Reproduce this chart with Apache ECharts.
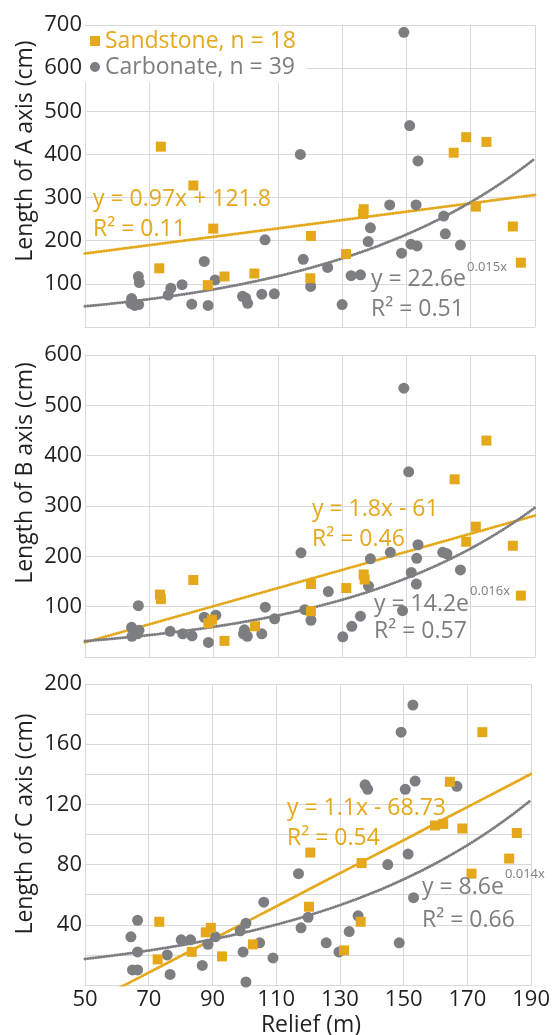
<!DOCTYPE html>
<html><head><meta charset="utf-8">
<script src="https://cdn.jsdelivr.net/npm/echarts@6/dist/echarts.min.js"></script>
<style>html,body{margin:0;padding:0;background:#fff}#c{width:553px;height:1035px}</style>
</head><body><div id="c"></div>
<script>
// ---------- data ----------
const xTicks = [50, 70, 90, 110, 130, 150, 170, 190];
const yTicksA = [100, 200, 300, 400, 500, 600, 700];
const yTicksB = [100, 200, 300, 400, 500, 600];
const yTicksC = [40, 80, 120, 160, 200];

const seriesNames = ['Sandstone, n = 18', 'Carbonate, n = 39'];

const sandstoneA = [[73.1,136],[73.6,418],[83.7,328],[88.2,97],[89.9,228],[93.4,117],[102.7,124],[120.1,113],[120.3,211],[131.2,169],[136.5,262],[136.7,273],[164.7,404],[168.6,440],[171.6,279],[174.9,429],[183.1,233],[185.6,149]];
const carbonateA = [[64.3,55],[64.5,66],[65.5,50],[66.6,117],[66.7,52],[66.9,103],[75.9,74],[76.7,90],[80.2,98],[83.2,53],[87.1,152],[88.3,50],[90.5,109],[99,71],[100,67],[100.6,55],[105,76],[106,202],[108.9,77],[117,400],[117.9,157],[120.2,94],[125.5,138],[130,52],[132.8,119],[135.7,121],[138.1,198],[138.8,230],[144.8,283],[148.5,171],[149.2,683],[151,467],[151.4,192],[153,283],[153.3,188],[153.6,385],[161.6,257],[162.1,216],[166.8,190]];

const sandstoneB = [[73.3,124],[73.6,115],[83.7,153],[88.4,67],[89.5,74],[93.4,32],[102.9,61],[120.3,145],[120.3,91],[131.3,137],[136.7,164],[137,154],[165,353],[168.6,229],[171.6,259],[174.9,430],[183.1,221],[185.6,122]];
const carbonateB = [[64.5,59],[64.6,41],[65.5,50],[66.6,102],[66.8,53],[66.3,46],[76.5,51],[80.4,46],[83.3,42],[87.1,79],[88.4,29],[90.7,83],[99.3,46],[99.6,54],[100.1,44],[100.5,41],[105,46],[106.1,99],[109,76],[117.2,207],[118.4,94],[120.3,73],[125.7,130],[130.2,40],[133,61],[135.7,81],[138.2,141],[138.8,195],[145,208],[148.8,92],[149.2,534],[150.7,368],[151.5,168],[153.1,145],[153.2,196],[153.6,223],[161.3,208],[162.6,205],[166.8,173]];

const sandstoneC = [[72.8,17],[73.3,42],[83.5,22],[87.9,35],[89.5,38],[93,19],[102.7,27],[120.3,52],[120.7,88],[131.3,23],[136.5,42],[136.8,81],[159.8,106],[162.4,107],[164.5,135],[168.4,104],[171.3,74],[174.7,168],[183.1,84],[185.5,101]];
const carbonateC = [[64.4,32],[64.9,10],[66.5,10],[66.5,22],[66.5,43],[75.8,20],[76.7,7],[80.2,30],[83.1,30],[86.8,13],[88.6,27],[90.9,32],[98.7,36],[99.6,22],[100.5,41],[100.5,2],[104.8,28],[106.1,55],[109,18],[117,74],[117.8,38],[120,45],[125.7,28],[129.7,22],[132.9,35.5],[135.7,46],[137.9,133],[138.7,130],[145,80],[148.6,28],[149.2,168],[150.5,130],[151.4,87],[152.9,186],[153.1,58],[153.6,135.5],[166.7,132]];

// trend-line coefficients as printed on the chart
const sandTrendA = [0.97, 121.8];   // y = a x + b
const carbTrendA = [22.6, 0.015];   // y = a e^(b x)
const sandTrendB = [1.8, -61];
const carbTrendB = [14.2, 0.016];
const sandTrendC = [1.1, -68.73];
const carbTrendC = [8.6, 0.014];

const eqSandA = ['y = 0.97x + 121.8', 'R\u00B2 = 0.11'];
const eqCarbA = ['y = 22.6e', '0.015x', 'R\u00B2 = 0.51'];
const eqSandB = ['y = 1.8x - 61', 'R\u00B2 = 0.46'];
const eqCarbB = ['y = 14.2e', '0.016x', 'R\u00B2 = 0.57'];
const eqSandC = ['y = 1.1x - 68.73', 'R\u00B2 = 0.54'];
const eqCarbC = ['y = 8.6e', '0.014x', 'R\u00B2 = 0.66'];

const axisTitles = ['Length of A axis (cm)', 'Length of B axis (cm)', 'Length of C axis (cm)'];
const xTitle = 'Relief (m)';

// ---------- styling ----------
const GOLD = '#E5A81A', GREY = '#7D7E82', TEXT = '#231F20', GRID = '#D9D9D9';
const FONT = '"Open Sans", "Noto Sans", sans-serif';
const GL = 85, GW = 450;

const panels = [
  {sand: sandstoneA, carb: carbonateA, st: sandTrendA, ct: carbTrendA, max: 700, interval: 100, ticks: yTicksA, top: 25, height: 302},
  {sand: sandstoneB, carb: carbonateB, st: sandTrendB, ct: carbTrendB, max: 600, interval: 100, ticks: yTicksB, top: 355, height: 302},
  {sand: sandstoneC, carb: carbonateC, st: sandTrendC, ct: carbTrendC, max: 200, interval: 20, ticks: yTicksC, top: 684, height: 301}
];

function linePts(fn) {
  const pts = [];
  for (let x = xTicks[0]; x <= xTicks[xTicks.length - 1]; x += 1) pts.push([x, fn(x)]);
  return pts;
}

const grids = [], xAxes = [], yAxes = [], series = [];
panels.forEach((p, i) => {
  grids.push({left: GL, width: GW, top: p.top, height: p.height, containLabel: false});
  xAxes.push({
    type: 'value', gridIndex: i, min: xTicks[0], max: xTicks[xTicks.length - 1], interval: 20,
    axisLine: {show: true, onZero: false, lineStyle: {color: GRID, width: 1}},
    axisTick: {show: false},
    splitLine: {show: true, lineStyle: {color: GRID, width: 1}},
    axisLabel: {show: i === 2, color: TEXT, fontSize: 22, fontFamily: FONT, margin: 4,
      formatter: v => xTicks.indexOf(v) >= 0 ? String(v) : ''}
  });
  yAxes.push({
    type: 'value', gridIndex: i, min: 0, max: p.max, interval: p.interval,
    axisLine: {show: true, lineStyle: {color: GRID, width: 1}},
    axisTick: {show: false},
    splitLine: {show: true, lineStyle: {color: GRID, width: 1}},
    axisLabel: {color: TEXT, fontSize: 22, fontFamily: FONT, margin: 3,
      formatter: v => p.ticks.indexOf(v) >= 0 ? String(v) : ''}
  });
  const dotted = {width: 3, type: [0.1, 2.6], cap: 'round'};
  series.push({
    name: 'sandTrend' + i, type: 'line', xAxisIndex: i, yAxisIndex: i, showSymbol: false, silent: true,
    clip: true, z: 2,
    lineStyle: Object.assign({color: GOLD}, dotted),
    data: linePts(x => p.st[0] * x + p.st[1])
  });
  series.push({
    name: 'carbTrend' + i, type: 'line', xAxisIndex: i, yAxisIndex: i, showSymbol: false, silent: true,
    clip: true, z: 2,
    lineStyle: Object.assign({color: GREY}, dotted),
    data: linePts(x => p.ct[0] * Math.exp(p.ct[1] * x))
  });
  series.push({
    name: seriesNames[1], type: 'scatter', xAxisIndex: i, yAxisIndex: i, symbol: 'circle', symbolSize: 11,
    itemStyle: {color: GREY, opacity: 1}, z: 3, data: p.carb
  });
  series.push({
    name: seriesNames[0], type: 'scatter', xAxisIndex: i, yAxisIndex: i, symbol: 'rect', symbolSize: 10,
    itemStyle: {color: GOLD, opacity: 1}, z: 4, data: p.sand
  });
});

// text measurement for superscript placement
const ctx = document.createElement('canvas').getContext('2d');
function textW(t, size) { ctx.font = size + 'px "Open Sans"'; return ctx.measureText(t).width; }

function eqGraphic(lines, color, x, y1, y2, sup, ySup) {
  const out = [];
  out.push({type: 'text', x: x, y: y1, z: 100, style: {text: lines[0], fill: color, font: '23px ' + FONT, align: 'left', verticalAlign: 'middle'}});
  if (sup) {
    const w = textW(lines[0], 23);
    out.push({type: 'text', x: x + w + 1, y: ySup, z: 100, style: {text: lines[1], fill: color, font: '13px ' + FONT, align: 'left', verticalAlign: 'middle'}});
    out.push({type: 'text', x: x, y: y2, z: 100, style: {text: lines[2], fill: color, font: '23px ' + FONT, align: 'left', verticalAlign: 'middle'}});
  } else {
    out.push({type: 'text', x: x, y: y2, z: 100, style: {text: lines[1], fill: color, font: '23px ' + FONT, align: 'left', verticalAlign: 'middle'}});
  }
  return out;
}

const graphics = [].concat(
  eqGraphic(eqSandA, GOLD, 93, 199, 229, false),
  eqGraphic(eqCarbA, GREY, 371, 279, 309, true, 267),
  eqGraphic(eqSandB, GOLD, 312, 509, 539, false),
  eqGraphic(eqCarbB, GREY, 374, 604, 631, true, 591),
  eqGraphic(eqSandC, GOLD, 287, 808, 838, false),
  eqGraphic(eqCarbC, GREY, 422, 887, 920, true, 874)
);
[151, 473, 824].forEach((cy, i) => {
  graphics.push({type: 'text', x: 25, y: cy, rotation: Math.PI / 2, z: 100,
    style: {text: axisTitles[i], fill: TEXT, font: '23px ' + FONT, align: 'center', verticalAlign: 'middle'}});
});
graphics.push({type: 'text', x: 311, y: 1025, z: 100,
  style: {text: xTitle, fill: TEXT, font: '23px ' + FONT, align: 'center', verticalAlign: 'middle'}});

const chart = echarts.init(document.getElementById('c'), null, {renderer: 'canvas'});
chart.setOption({
  backgroundColor: '#fff',
  animation: false,
  legend: {
    orient: 'vertical', left: GL, top: 26, padding: [3.5, 10, 4, 5], itemGap: 3,
    itemWidth: 10, itemHeight: 10, backgroundColor: '#fff', selectedMode: false, z: 50,
    textStyle: {fontSize: 23, fontFamily: FONT, lineHeight: 23},
    data: [
      {name: seriesNames[0], icon: 'rect', textStyle: {color: GOLD}},
      {name: seriesNames[1], icon: 'circle', textStyle: {color: GREY}}
    ]
  },
  grid: grids, xAxis: xAxes, yAxis: yAxes, series: series, graphic: graphics
});
</script>
</body></html>
